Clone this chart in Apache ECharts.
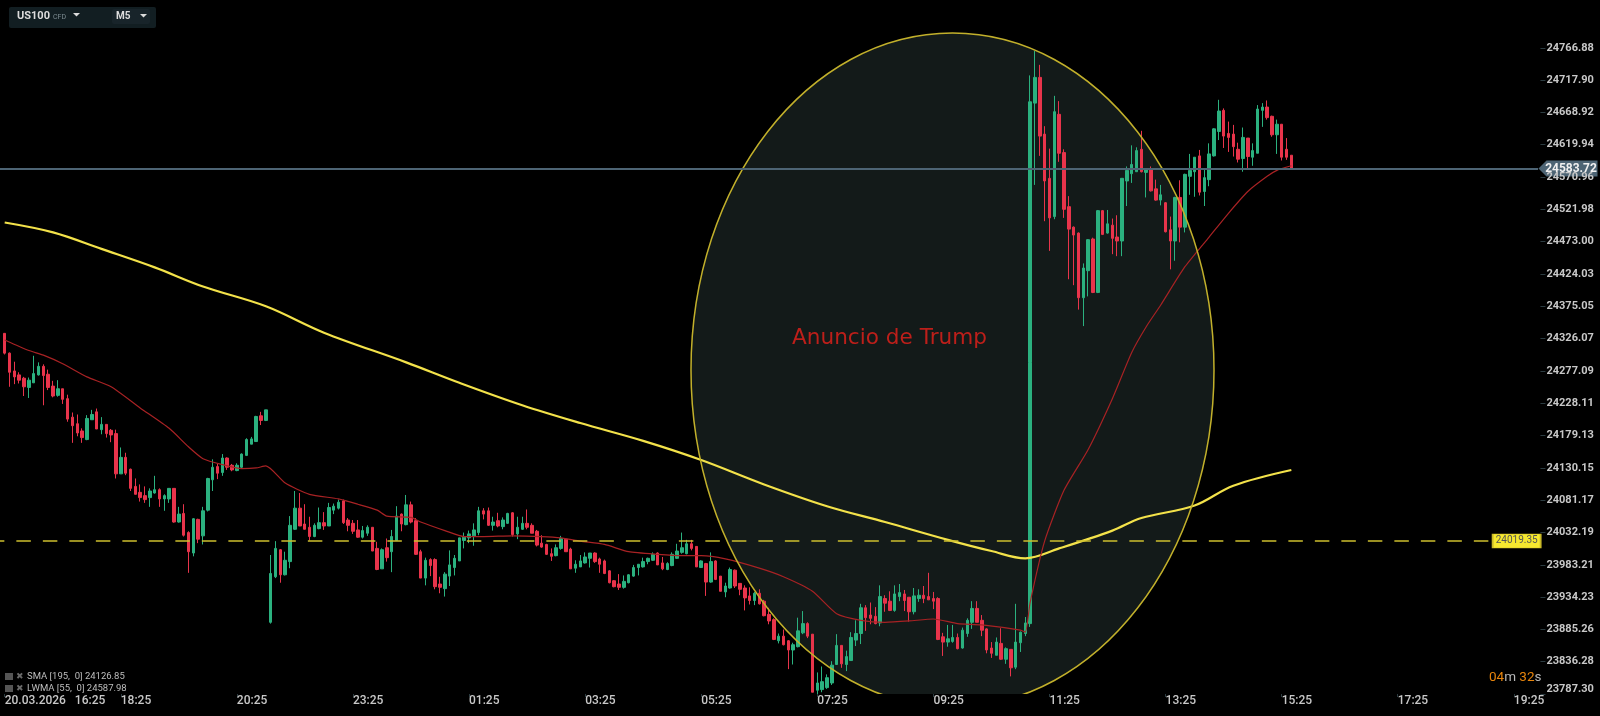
<!DOCTYPE html>
<html>
<head>
<meta charset="utf-8">
<style>html,body{margin:0;padding:0;background:#000}#chart{width:1600px;height:716px}</style>
<script src="https://cdn.jsdelivr.net/npm/echarts@6/dist/echarts.min.js"></script>
</head>
<body>
<div id="chart"></div>
<script>
// one row per M5 candle: open, close, low, high
var candles = [
[24334,24304,24302,24334],[24304,24275,24253,24305],[24277,24268,24257,24291],[24271,24263,24258,24275],[24266,24253,24239,24268],
[24252,24263,24236,24267],[24259,24273,24259,24300],[24271,24284,24270,24290],[24284,24270,24225,24287],[24272,24252,24248,24279],
[24254,24239,24237,24262],[24240,24250,24238,24263],[24250,24234,24227,24250],[24235,24204,24200,24241],[24207,24194,24168,24214],
[24197,24183,24178,24211],[24186,24176,24168,24190],[24173,24205,24172,24210],[24203,24211,24203,24218],[24215,24189,24189,24220],
[24188,24196,24181,24207],[24196,24182,24176,24196],[24187,24180,24169,24189],[24182,24121,24114,24188],[24121,24146,24121,24161],
[24146,24122,24119,24153],[24128,24099,24095,24129],[24102,24090,24090,24114],[24093,24085,24079,24105],[24088,24082,24077,24102],
[24085,24095,24071,24099],[24092,24097,24091,24118],[24097,24083,24071,24099],[24083,24088,24065,24090],[24083,24099,24077,24099],
[24099,24048,24047,24099],[24048,24060,24047,24071],[24061,24028,24026,24075],[24032,24003,23971,24034],[24001,24053,23996,24054],
[24052,24022,24016,24053],[24027,24065,24014,24071],[24066,24114,24064,24115],[24112,24131,24095,24143],[24132,24122,24113,24136],
[24123,24145,24118,24151],[24145,24131,24127,24146],[24134,24127,24125,24136],[24126,24134,24125,24137],[24131,24151,24130,24152],
[24149,24173,24148,24175],[24166,24174,24166,24177],[24170,24208,24170,24209],[24209,24202,24195,24215],[24202,24218,24201,24218],
[23896,23970,23894,23998],[23965,24008,23963,24019],[24006,23968,23956,24007],[23968,23990,23967,24003],[23988,24043,23978,24057],
[24037,24069,24036,24095],[24069,24042,24042,24092],[24045,24037,24037,24075],[24040,24026,24020,24056],[24026,24043,24025,24046],
[24038,24047,24037,24070],[24047,24042,24036,24063],[24042,24070,24042,24077],[24066,24072,24060,24076],[24069,24078,24067,24082],
[24080,24047,24045,24082],[24051,24043,24034,24054],[24046,24034,24030,24051],[24036,24025,24024,24051],[24025,24035,24023,24042],
[24031,24040,24027,24043],[24040,24004,24004,24040],[24008,23976,23975,24018],[23977,24006,23977,24008],[24009,23994,23988,24023],
[24003,24026,23972,24036],[24020,24057,24020,24072],[24060,24045,24034,24061],[24044,24074,24043,24089],[24074,24048,24046,24079],
[24050,23999,23998,24054],[24003,23963,23963,24006],[23963,23990,23952,23994],[23991,23982,23966,23993],[23991,23950,23946,23993],
[23954,23949,23940,23965],[23947,23969,23935,23972],[23966,23983,23951,24005],[23979,23993,23967,23998],[23989,24024,23989,24024],
[24020,24025,24008,24032],[24024,24030,24016,24035],[24027,24036,24012,24046],[24032,24065,24028,24071],[24065,24060,24052,24069],
[24065,24043,24042,24070],[24043,24048,24035,24056],[24050,24042,24040,24062],[24041,24051,24037,24055],[24046,24061,24045,24062],
[24062,24029,24026,24063],[24030,24040,24022,24056],[24037,24046,24036,24056],[24046,24040,24037,24067],[24043,24031,24031,24046],
[24034,24013,24011,24036],[24016,24010,24009,24028],[24014,23999,23998,24015],[24000,23996,23989,24008],[23997,24009,23996,24014],
[24008,24023,24006,24027],[24022,24003,24003,24022],[24007,23977,23977,24009],[23978,23984,23971,23990],[23980,23989,23980,23998],
[23986,23995,23985,24002],[23993,24001,23979,24001],[24001,23988,23986,24002],[23992,23984,23971,23994],[23989,23970,23969,23991],
[23974,23956,23955,23975],[23959,23950,23949,23960],[23954,23949,23945,23969],[23949,23958,23947,23967],[23956,23968,23955,23969],
[23966,23979,23965,23983],[23979,23984,23967,23984],[23980,23988,23979,23994],[23988,23993,23984,23994],[23990,23999,23989,24002],
[24001,23983,23983,24002],[23986,23977,23975,23995],[23976,23985,23975,23987],[23982,23999,23981,24002],[23993,24004,23992,24015],
[24002,24009,24000,24032],[24000,24015,23999,24021],[24015,24008,24005,24021],[24011,23980,23980,24011],[23979,23989,23979,23990],
[23985,23957,23936,23986],[23957,23988,23956,24002],[23989,23961,23960,23990],[23966,23943,23943,23966],[23942,23951,23934,23956],
[23948,23976,23947,23979],[23975,23951,23948,23976],[23955,23946,23937,23955],[23948,23933,23914,23952],[23936,23929,23923,23949],
[23929,23940,23922,23942],[23940,23924,23923,23946],[23928,23906,23905,23930],[23908,23898,23893,23918],[23900,23870,23869,23902],
[23868,23875,23864,23879],[23875,23862,23861,23885],[23868,23854,23825,23869],[23854,23862,23832,23865],[23859,23883,23858,23903],
[23880,23894,23878,23913],[23894,23875,23872,23896],[23878,23790,23790,23878],[23793,23804,23787,23820],[23794,23806,23790,23829],
[23797,23812,23795,23817],[23804,23831,23801,23837],[23832,23861,23832,23878],[23861,23833,23827,23861],[23832,23844,23822,23853],
[23838,23873,23838,23881],[23869,23879,23860,23899],[23879,23918,23863,23924],[23918,23903,23883,23922],[23907,23902,23893,23926],
[23905,23894,23893,23919],[23895,23935,23890,23952],[23932,23925,23912,23937],[23928,23914,23913,23943],[23914,23939,23912,23952],
[23935,23941,23928,23954],[23939,23929,23913,23945],[23934,23912,23897,23934],[23912,23936,23908,23948],[23932,23937,23927,23946],
[23937,23932,23925,23951],[23935,23930,23930,23971],[23932,23928,23916,23942],[23932,23870,23869,23934],[23874,23866,23845,23880],
[23866,23871,23859,23892],[23867,23873,23865,23892],[23873,23856,23855,23879],[23857,23884,23856,23888],[23879,23899,23874,23902],
[23896,23917,23886,23928],[23917,23896,23896,23928],[23899,23884,23875,23907],[23886,23854,23849,23887],[23857,23849,23842,23866],
[23846,23866,23846,23873],[23864,23840,23839,23887],[23840,23856,23833,23858],[23855,23827,23814,23855],[23828,23866,23825,23924],
[23865,23881,23851,23882],[23879,23895,23875,23904],[23894,24685,23889,24725],[24683,24722,24559,24762],[24722,24633,24603,24741],
[24636,24565,24504,24648],[24569,24509,24459,24614],[24511,24670,24507,24694],[24666,24607,24594,24686],[24608,24522,24509,24613],
[24526,24492,24416,24542],[24495,24483,24407,24496],[24486,24388,24370,24487],[24388,24433,24345,24440],[24429,24476,24390,24477],
[24477,24396,24395,24479],[24396,24520,24395,24521],[24520,24484,24483,24521],[24486,24500,24485,24521],[24498,24478,24454,24508],
[24480,24474,24451,24513],[24474,24569,24451,24569],[24565,24581,24527,24587],[24576,24590,24562,24619],[24579,24611,24579,24616],
[24613,24579,24578,24641],[24578,24582,24540,24584],[24583,24550,24549,24587],[24553,24536,24535,24567],[24536,24544,24528,24559],
[24532,24488,24487,24533],[24491,24474,24431,24511],[24474,24540,24444,24541],[24540,24495,24472,24566],[24495,24575,24487,24576],
[24572,24581,24544,24606],[24579,24601,24541,24601],[24603,24548,24543,24612],[24549,24570,24527,24582],[24567,24606,24557,24622],
[24603,24644,24602,24645],[24640,24671,24627,24688],[24672,24633,24615,24675],[24637,24631,24609,24655],[24636,24617,24602,24650],
[24613,24598,24593,24623],[24599,24631,24579,24646],[24630,24602,24584,24630],[24601,24611,24588,24622],[24607,24674,24607,24680],
[24672,24677,24647,24683],[24677,24661,24658,24687],[24663,24635,24632,24664],[24635,24651,24606,24658],[24651,24601,24596,24651],
[24613,24601,24597,24630],[24604,24583.72,24583,24604]
];

var smaIndex = [0,10,20,31,41,54,66,83,94,107,119,132,144,157,170,182,195,204,211,218,229,235,246,254,266];
var smaValues = [24502,24487,24462,24434,24405,24375,24335,24290,24259,24225,24198,24171,24142,24105,24072,24048,24021,24004,23993,24008,24035,24054,24073,24103,24126.85];

var lwmaIndex = [0,5,8,12,17,22,28,34,38,41,45,49,52,54,58,63,69,73,77,79,84,86,91,95,99,105,111,115,119,124,129,135,140,144,149,156,161,167,172,177,182,187,192,197,202,210,211,212,215,219,224,229,233,236,239,244,249,253,257,261,263,266];
var lwmaValues = [24324,24308,24301,24288,24268,24253,24221,24190,24162,24144,24135,24129,24130,24133,24107,24090,24083,24075,24066,24057,24055,24048,24035,24026,24026,24027,24026,24024,24019,24014,24003,23999,23997,23997,23992,23978,23965,23943,23909,23899,23896,23898,23901,23894,23892,23884,23881,23926,24019,24096,24158,24235,24305,24344,24377,24435,24480,24516,24549,24572,24581,24587.98];

var priceTicks = [24766.88,24717.90,24668.92,24619.94,24570.96,24521.98,24473.00,24424.03,24375.05,24326.07,24277.09,24228.11,24179.13,24130.15,24081.17,24032.19,23983.21,23934.23,23885.26,23836.28,23787.30];
var timeLabels = ['20.03.2026   16:25','18:25','20:25','23:25','01:25','03:25','05:25','07:25','09:25','11:25','13:25','15:25','17:25','19:25'];
var lastPrice = 24583.72;
var levelPrice = 24019.35;

var SLOTS = 319;
var LABEL_EVERY = 24;
var categories = [];
for (var k = 0; k < SLOTS; k++) {
  categories.push(k >= 1 && (k - 1) % LABEL_EVERY === 0 ? (timeLabels[(k - 1) / LABEL_EVERY] || '') : '');
}
function pairs(idx, vals) {
  return idx.map(function (d, n) { return [d + 1, vals[n]]; });
}
function hasLabel(i, v) { return v !== ''; }

var chart = echarts.init(document.getElementById('chart'), null, { renderer: 'canvas' });
var font = 'Roboto';
var icons = [];
[677, 689].forEach(function (y) {
  icons.push({ type: 'rect', silent: true, z: 8, shape: { x: 5, y: y - 4, width: 8, height: 7 }, style: { fill: '#555' } });
  icons.push({ type: 'text', silent: true, z: 8, x: 16, y: y - 5, style: { text: '✖', fill: '#6a6a6a', font: '9px "DejaVu Sans"' } });
});

chart.setOption({
  backgroundColor: '#000',
  animation: false,
  grid: { left: -2.56, top: 0, width: 1543, height: 694, outerBoundsMode: 'none' },
  xAxis: {
    type: 'category',
    data: categories,
    z: 10,
    axisLine: { show: false },
    axisTick: { show: true, interval: hasLabel, alignWithLabel: true, length: 3, lineStyle: { color: '#2b3b40' } },
    axisLabel: { show: true, interval: hasLabel, align: 'left', margin: 1, color: '#c8c8c8', fontFamily: font, fontSize: 12, fontWeight: 500, hideOverlap: false },
    splitLine: { show: false }
  },
  yAxis: {
    type: 'value',
    position: 'right',
    min: 23787.3,
    max: 24839.3,
    z: 10,
    axisLine: { show: false },
    splitLine: { show: false },
    axisTick: { show: true, length: 5, customValues: priceTicks, lineStyle: { color: '#2b3b40' } },
    axisLabel: {
      show: true,
      customValues: priceTicks,
      margin: 6,
      color: '#c8c8c8',
      fontFamily: font,
      fontSize: 11,
      fontWeight: 'bold',
      formatter: function (v) {
        return v === 23787.3 ? '{low|' + v.toFixed(2) + '}' : v.toFixed(2);
      },
      rich: { low: { color: '#c8c8c8', fontFamily: font, fontSize: 11, fontWeight: 'bold', padding: [0, 0, 9, 0] } }
    }
  },
  series: [
    {
      type: 'candlestick',
      data: [['-', '-', '-', '-']].concat(candles),
      barWidth: 3,
      z: 2,
      itemStyle: { color: '#2bb17f', color0: '#e8344b', borderColor: '#2bb17f', borderColor0: '#e8344b', borderWidth: 1 },
      markLine: {
        silent: true,
        symbol: 'none',
        label: { show: false },
        data: [
          [{ coord: [0, levelPrice], lineStyle: { color: '#cdbf2e', width: 1.5, type: [14.5, 12], dashOffset: 10 } }, { coord: [308, levelPrice] }],
          [{ coord: [0, lastPrice], lineStyle: { color: '#4d6474', width: 2, type: 'solid' } }, { coord: [318, lastPrice] }]
        ]
      },
      markPoint: {
        silent: true,
        data: [
          {
            coord: [318, lastPrice],
            symbol: 'path://M0,8L8,0L59,0L59,16L8,16Z',
            symbolSize: [59, 16],
            symbolOffset: [30, 0],
            itemStyle: { color: '#4d6474' },
            label: { show: true, position: 'inside', offset: [3, 0], formatter: lastPrice.toFixed(2), color: '#f0f0f0', fontFamily: font, fontSize: 12, fontWeight: 'bold' }
          },
          {
            coord: [308, levelPrice],
            symbol: 'rect',
            symbolSize: [48, 14],
            symbolOffset: [27, 0],
            itemStyle: { color: '#f6e82f', borderColor: '#c9b928', borderWidth: 1 },
            label: { show: true, position: 'inside', formatter: levelPrice.toFixed(2), color: '#555', fontFamily: font, fontSize: 10 }
          }
        ]
      }
    },
    {
      name: 'SMA',
      type: 'line',
      data: pairs(smaIndex, smaValues),
      showSymbol: false,
      smooth: 0.35,
      z: 3,
      lineStyle: { color: '#f3e24a', width: 2.2 }
    },
    {
      name: 'LWMA',
      type: 'line',
      data: pairs(lwmaIndex, lwmaValues),
      showSymbol: false,
      smooth: 0.2,
      z: 3,
      lineStyle: { color: '#a82224', width: 1.2 }
    }
  ],
  graphic: {
    elements: [
      { type: 'ellipse', silent: true, z: -1, shape: { cx: 952.5, cy: 370, rx: 261.5, ry: 337 }, style: { fill: '#131a19' } },
      { type: 'ellipse', silent: true, z: 5, shape: { cx: 952.5, cy: 370, rx: 261.5, ry: 337 }, style: { fill: 'none', stroke: '#c2b02b', lineWidth: 1.5 } },
      { type: 'rect', silent: true, z: 6, shape: { x: 0, y: 694, width: 1600, height: 22 }, style: { fill: '#000' } },
      { type: 'text', silent: true, z: 7, x: 792, y: 327, style: { text: 'Anuncio de Trump', fill: '#bd1f1a', font: '21.6px "DejaVu Sans"' } },

      // symbol / timeframe box
      { type: 'rect', silent: true, z: 7, shape: { x: 9, y: 7, width: 147, height: 21, r: 2 }, style: { fill: '#121e22' } },
      { type: 'rect', silent: true, z: 7, shape: { x: 112, y: 9, width: 38, height: 15, r: 2 }, style: { fill: '#18242a' } },
      { type: 'text', silent: true, z: 8, x: 17, y: 11, style: { text: 'US100', fill: '#dcdcdc', font: 'bold 11px Roboto' } },
      { type: 'text', silent: true, z: 8, x: 53, y: 14, style: { text: 'CFD', fill: '#7d8c92', font: '7px Roboto' } },
      { type: 'polygon', silent: true, z: 8, shape: { points: [[73, 13], [80, 13], [76.5, 16.5]] }, style: { fill: '#dcdcdc' } },
      { type: 'text', silent: true, z: 8, x: 116, y: 11, style: { text: 'M5', fill: '#dcdcdc', font: 'bold 10px Roboto' } },
      { type: 'polygon', silent: true, z: 8, shape: { points: [[140, 14], [147, 14], [143.5, 17.5]] }, style: { fill: '#dcdcdc' } },

      // indicator legend
      { type: 'text', silent: true, z: 8, x: 27, y: 672, style: { text: 'SMA [195,  0] 24126.85', fill: '#bdbdbd', font: '9.5px Roboto' } },
      { type: 'text', silent: true, z: 8, x: 27, y: 684, style: { text: 'LWMA [55,  0] 24587.98', fill: '#bdbdbd', font: '9.5px Roboto' } }
    ].concat(icons).concat([
      // candle countdown
      {
        type: 'text', silent: true, z: 8, x: 1489, y: 671,
        style: {
          text: '{a|04}{b|m} {a|32}{b|s}',
          rich: {
            a: { fill: '#e8850c', font: '13.5px Roboto' },
            b: { fill: '#b8b8b8', font: '13.5px Roboto' }
          }
        }
      }
    ])
  }
});
</script>
</body>
</html>
